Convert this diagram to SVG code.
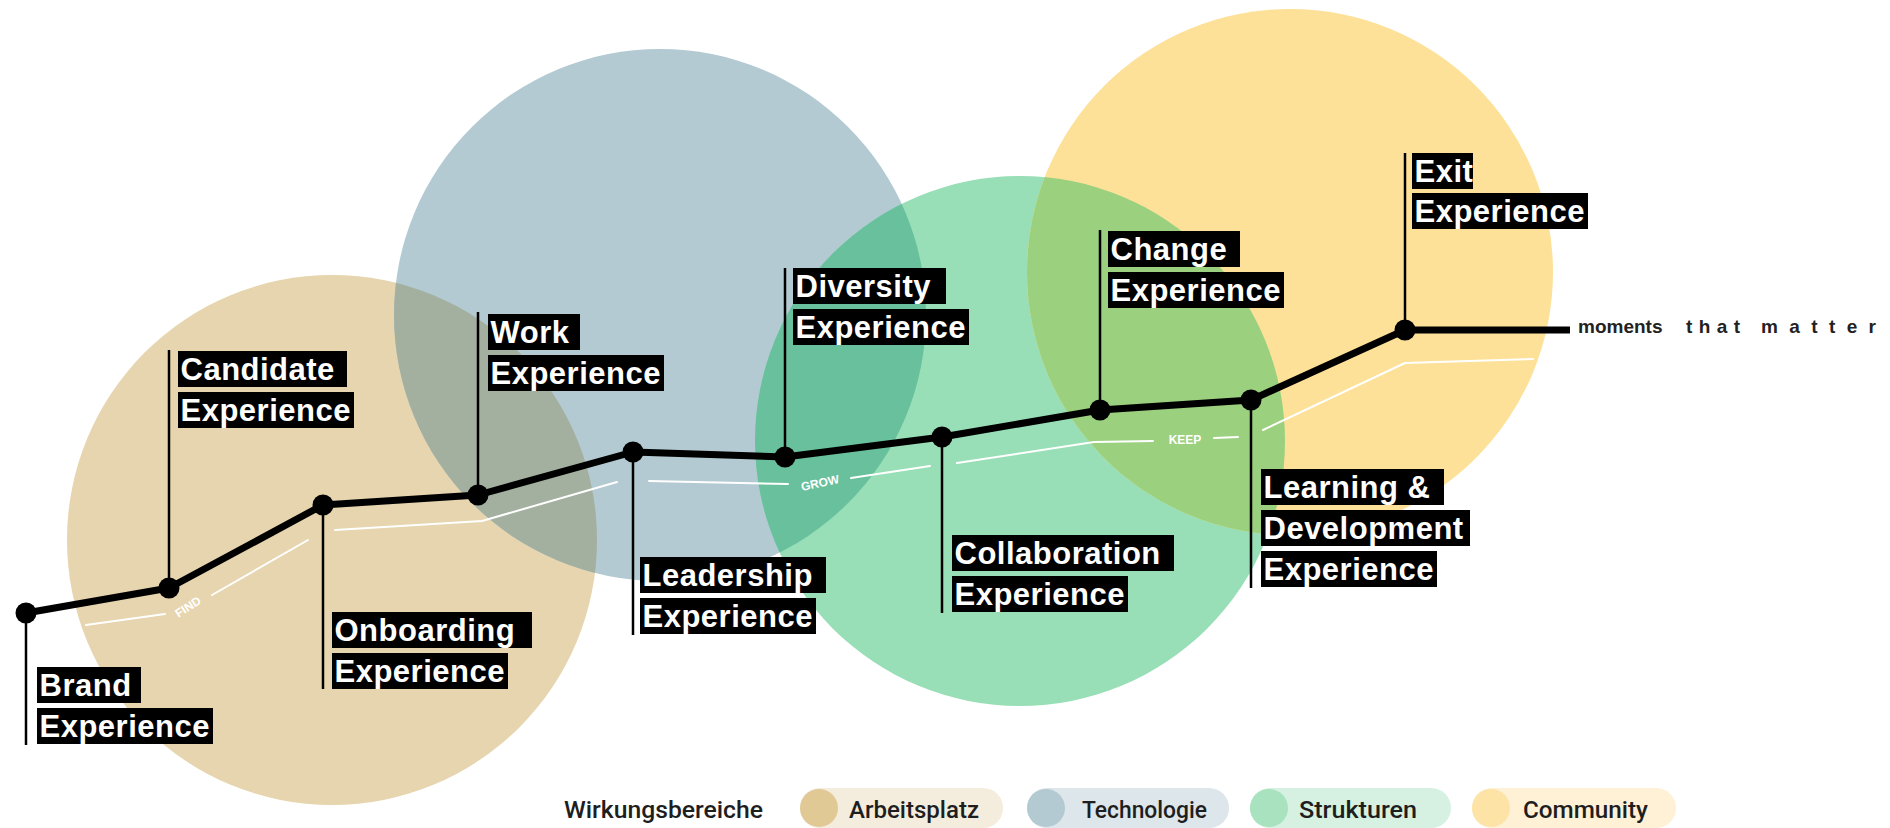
<svg xmlns="http://www.w3.org/2000/svg" width="1890" height="828" viewBox="0 0 1890 828">
<style>
.lbl rect{fill:#000}
.lbl text{font-family:"Liberation Sans",Arial,sans-serif;font-weight:bold;font-size:31px;fill:#fff;letter-spacing:0.5px}
.stem{stroke:#000;stroke-width:2.5}
.dot{fill:#000}
.journey{fill:none;stroke:#000;stroke-width:7;stroke-linejoin:round}
.wl{fill:none;stroke:#fff;stroke-width:2;stroke-linecap:round;stroke-linejoin:round}
.phase{font-family:"Liberation Sans",Arial,sans-serif;font-weight:bold;font-size:12px;fill:#fff}
.leg{font-family:Roboto,"Liberation Sans",Arial,sans-serif;font-weight:500;font-size:24px;fill:#1e1e1e}
.mtm{font-family:"Liberation Sans",Arial,sans-serif;font-weight:bold;font-size:19px;fill:#222}
</style>
<defs>
<clipPath id="cTan"><circle cx="332" cy="540" r="265"/></clipPath>
<clipPath id="cGreen"><circle cx="1020" cy="441" r="265"/></clipPath>
</defs>
<g id="areas">
<circle cx="332" cy="540" r="265" fill="#e6d5ae"/>
<circle cx="660" cy="315" r="266" fill="#b3cad2"/>
<circle cx="1020" cy="441" r="265" fill="#98dfb7"/>
<circle cx="1290" cy="272" r="263" fill="#fde198"/>
<circle cx="660" cy="315" r="266" fill="#a3b09f" clip-path="url(#cTan)"/>
<circle cx="660" cy="315" r="266" fill="#68c09d" clip-path="url(#cGreen)"/>
<circle cx="1290" cy="272" r="263" fill="#9ad07e" clip-path="url(#cGreen)"/>
</g>
<g id="connectors">
<polyline class="wl" points="86,625 165,614"/>
<polyline class="wl" points="212,595 308,540"/>
<polyline class="wl" points="335,530 482,521 617,482"/>
<polyline class="wl" points="649,481 788,484"/>
<polyline class="wl" points="851,478 930,466"/>
<polyline class="wl" points="957,463 1094,442 1153,441"/>
<polyline class="wl" points="1214,438 1238,437"/>
<polyline class="wl" points="1263,430 1405,363 1533,359"/>
<text class="phase" x="188" y="611" text-anchor="middle" transform="rotate(-33 188 607)">FIND</text>
<text class="phase" x="820" y="487" text-anchor="middle" transform="rotate(-12 820 483)">GROW</text>
<text class="phase" x="1185" y="444" text-anchor="middle">KEEP</text>
<polyline class="journey" points="26,613 169,588 323,505 478,495 633,452 785,457 942,437 1100,410 1251,400 1405,330 1570,330"/>
</g>
<g id="brand" class="lbl">
<line class="stem" x1="26" y1="613" x2="26" y2="745"/>
<circle class="dot" cx="26" cy="613" r="10.5"/>
<rect x="37" y="667" width="104" height="36"/><text x="39.5" y="696">Brand</text>
<rect x="37" y="708" width="176" height="36"/><text x="39.5" y="737">Experience</text>
</g>
<g id="candidate" class="lbl">
<line class="stem" x1="169" y1="350" x2="169" y2="588"/>
<circle class="dot" cx="169" cy="588" r="10.5"/>
<rect x="178" y="351" width="169" height="36"/><text x="180.5" y="380">Candidate</text>
<rect x="178" y="392" width="176" height="36"/><text x="180.5" y="421">Experience</text>
</g>
<g id="onboarding" class="lbl">
<line class="stem" x1="323" y1="505" x2="323" y2="689"/>
<circle class="dot" cx="323" cy="505" r="10.5"/>
<rect x="332" y="612" width="200" height="36"/><text x="334.5" y="641">Onboarding</text>
<rect x="332" y="653" width="176" height="36"/><text x="334.5" y="682">Experience</text>
</g>
<g id="work" class="lbl">
<line class="stem" x1="478" y1="312" x2="478" y2="495"/>
<circle class="dot" cx="478" cy="495" r="10.5"/>
<rect x="488" y="314" width="92" height="36"/><text x="490.5" y="343">Work</text>
<rect x="488" y="355" width="176" height="36"/><text x="490.5" y="384">Experience</text>
</g>
<g id="leadership" class="lbl">
<line class="stem" x1="633" y1="452" x2="633" y2="635"/>
<circle class="dot" cx="633" cy="452" r="10.5"/>
<rect x="640" y="557" width="186" height="36"/><text x="642.5" y="586">Leadership</text>
<rect x="640" y="598" width="176" height="36"/><text x="642.5" y="627">Experience</text>
</g>
<g id="diversity" class="lbl">
<line class="stem" x1="785" y1="268" x2="785" y2="457"/>
<circle class="dot" cx="785" cy="457" r="10.5"/>
<rect x="793" y="268" width="153" height="36"/><text x="795.5" y="297">Diversity</text>
<rect x="793" y="309" width="176" height="36"/><text x="795.5" y="338">Experience</text>
</g>
<g id="collaboration" class="lbl">
<line class="stem" x1="942" y1="437" x2="942" y2="613"/>
<circle class="dot" cx="942" cy="437" r="10.5"/>
<rect x="952" y="535" width="222" height="36"/><text x="954.5" y="564">Collaboration</text>
<rect x="952" y="576" width="176" height="36"/><text x="954.5" y="605">Experience</text>
</g>
<g id="change" class="lbl">
<line class="stem" x1="1100" y1="230" x2="1100" y2="410"/>
<circle class="dot" cx="1100" cy="410" r="10.5"/>
<rect x="1108" y="231" width="132" height="36"/><text x="1110.5" y="260">Change</text>
<rect x="1108" y="272" width="176" height="36"/><text x="1110.5" y="301">Experience</text>
</g>
<g id="learning" class="lbl">
<line class="stem" x1="1251" y1="400" x2="1251" y2="588"/>
<circle class="dot" cx="1251" cy="400" r="10.5"/>
<rect x="1261" y="469" width="183" height="36"/><text x="1263.5" y="498">Learning &amp;</text>
<rect x="1261" y="510" width="209" height="36"/><text x="1263.5" y="539">Development</text>
<rect x="1261" y="551" width="176" height="36"/><text x="1263.5" y="580">Experience</text>
</g>
<g id="exit" class="lbl">
<line class="stem" x1="1405" y1="153" x2="1405" y2="330"/>
<circle class="dot" cx="1405" cy="330" r="10.5"/>
<rect x="1412" y="153" width="61" height="36"/><text x="1414.5" y="182">Exit</text>
<rect x="1412" y="193" width="176" height="36"/><text x="1414.5" y="222">Experience</text>
</g>
<g id="tagline">
<text class="mtm" x="1578" y="333">moments</text>
<text class="mtm" x="1686" y="333" textLength="54" lengthAdjust="spacing">that</text>
<text class="mtm" x="1761" y="333" textLength="115" lengthAdjust="spacing">matter</text>
</g>
<g id="legend">
<text class="leg" x="564" y="818" textLength="199" lengthAdjust="spacingAndGlyphs">Wirkungsbereiche</text>
<g id="leg-arbeitsplatz">
<rect x="800" y="788" width="203" height="40" rx="20" fill="#f4ecdc"/>
<circle cx="819" cy="808" r="19" fill="#e1c996"/>
<text class="leg" x="849" y="818" textLength="130" lengthAdjust="spacingAndGlyphs">Arbeitsplatz</text>
</g>
<g id="leg-technologie">
<rect x="1027" y="788" width="202" height="40" rx="20" fill="#dde6ea"/>
<circle cx="1046" cy="808" r="19" fill="#b3cad2"/>
<text class="leg" x="1082" y="818" textLength="125" lengthAdjust="spacingAndGlyphs">Technologie</text>
</g>
<g id="leg-strukturen">
<rect x="1250" y="788" width="201" height="40" rx="20" fill="#d6f1e1"/>
<circle cx="1269" cy="808" r="19" fill="#a8e2be"/>
<text class="leg" x="1299" y="818" textLength="118" lengthAdjust="spacingAndGlyphs">Strukturen</text>
</g>
<g id="leg-community">
<rect x="1472" y="788" width="204" height="40" rx="20" fill="#fef1d6"/>
<circle cx="1491" cy="808" r="19" fill="#fde3a5"/>
<text class="leg" x="1523" y="818" textLength="125" lengthAdjust="spacingAndGlyphs">Community</text>
</g>
</g>
</svg>
